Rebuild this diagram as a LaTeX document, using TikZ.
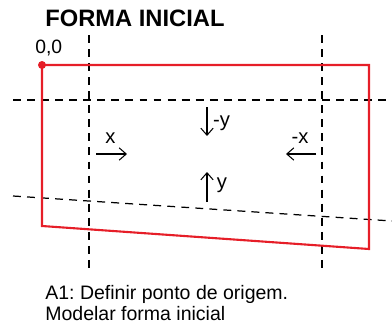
\documentclass[tikz,border=0pt]{standalone}
\usepackage{fontspec}
\setmainfont{Liberation Sans}
\usetikzlibrary{arrows.meta, positioning}
\frenchspacing
\definecolor{shapered}{RGB}{230,30,40}

\tikzset{
  guide/.style={black, line width=0.7pt, dash pattern=on 4.5pt off 3.5pt},
  outline/.style={shapered, line width=1.2pt, line join=miter},
  dirarrow/.style={-{Straight Barb[length=4pt, width=7pt]}, line width=0.6pt},
  dirlabel/.style={font=\fontsize{11.5}{13}\selectfont, inner sep=0pt, anchor=base}
}

\begin{document}
\begin{tikzpicture}[x=0.02cm, y=-0.02cm]
  \useasboundingbox (0,0) rectangle (392,328);
  % Guide lines
  \draw[guide] (89,35) -- (89,273);
  \draw[guide] (322,35) -- (322,273);
  \draw[guide] (13,100) -- (392,100);
  \draw[guide] (13,196) -- (392,221);
  % Initial shape
  \coordinate (o) at (42,65);
  \coordinate (tr) at (369,65);
  \coordinate (br) at (369,249);
  \coordinate (bl) at (42,226);
  \draw[outline] (o) -- (tr) -- (br) -- (bl) -- cycle;
  \fill[shapered] (o) circle (4);
  % Direction arrows
  \coordinate (xa) at (96,154);  \coordinate (xb) at (127,154);
  \coordinate (nxa) at (316,154); \coordinate (nxb) at (286,154);
  \coordinate (nya) at (207,107); \coordinate (nyb) at (207,136);
  \coordinate (ya) at (207,202);  \coordinate (yb) at (207,172);
  \draw[dirarrow] (xa) -- (xb);
  \draw[dirarrow] (nxa) -- (nxb);
  \draw[dirarrow] (nya) -- (nyb);
  \draw[dirarrow] (ya) -- (yb);
  \node[dirlabel] (lx) at (110.5,143) {x};
  \node[dirlabel] (lnx) at (300,143) {-x};
  \node[dirlabel] (lny) at (221.5,126) {-y};
  \node[dirlabel] (ly) at (222,188) {y};
  % Texts
  \node[anchor=base west, inner sep=0pt, font=\fontsize{13.5}{15}\selectfont\bfseries] (title) at (45,27) {FORMA INICIAL};
  \node[anchor=base west, inner sep=0pt, font=\fontsize{11}{13}\selectfont] (orig) at (35,53) {0,0};
  \node[anchor=base west, inner sep=0pt, font=\fontsize{11.1}{11.7}\selectfont, align=left] (note) at (45,320)
    {A1: Definir ponto de origem.\\Modelar forma inicial};
\end{tikzpicture}
\end{document}
